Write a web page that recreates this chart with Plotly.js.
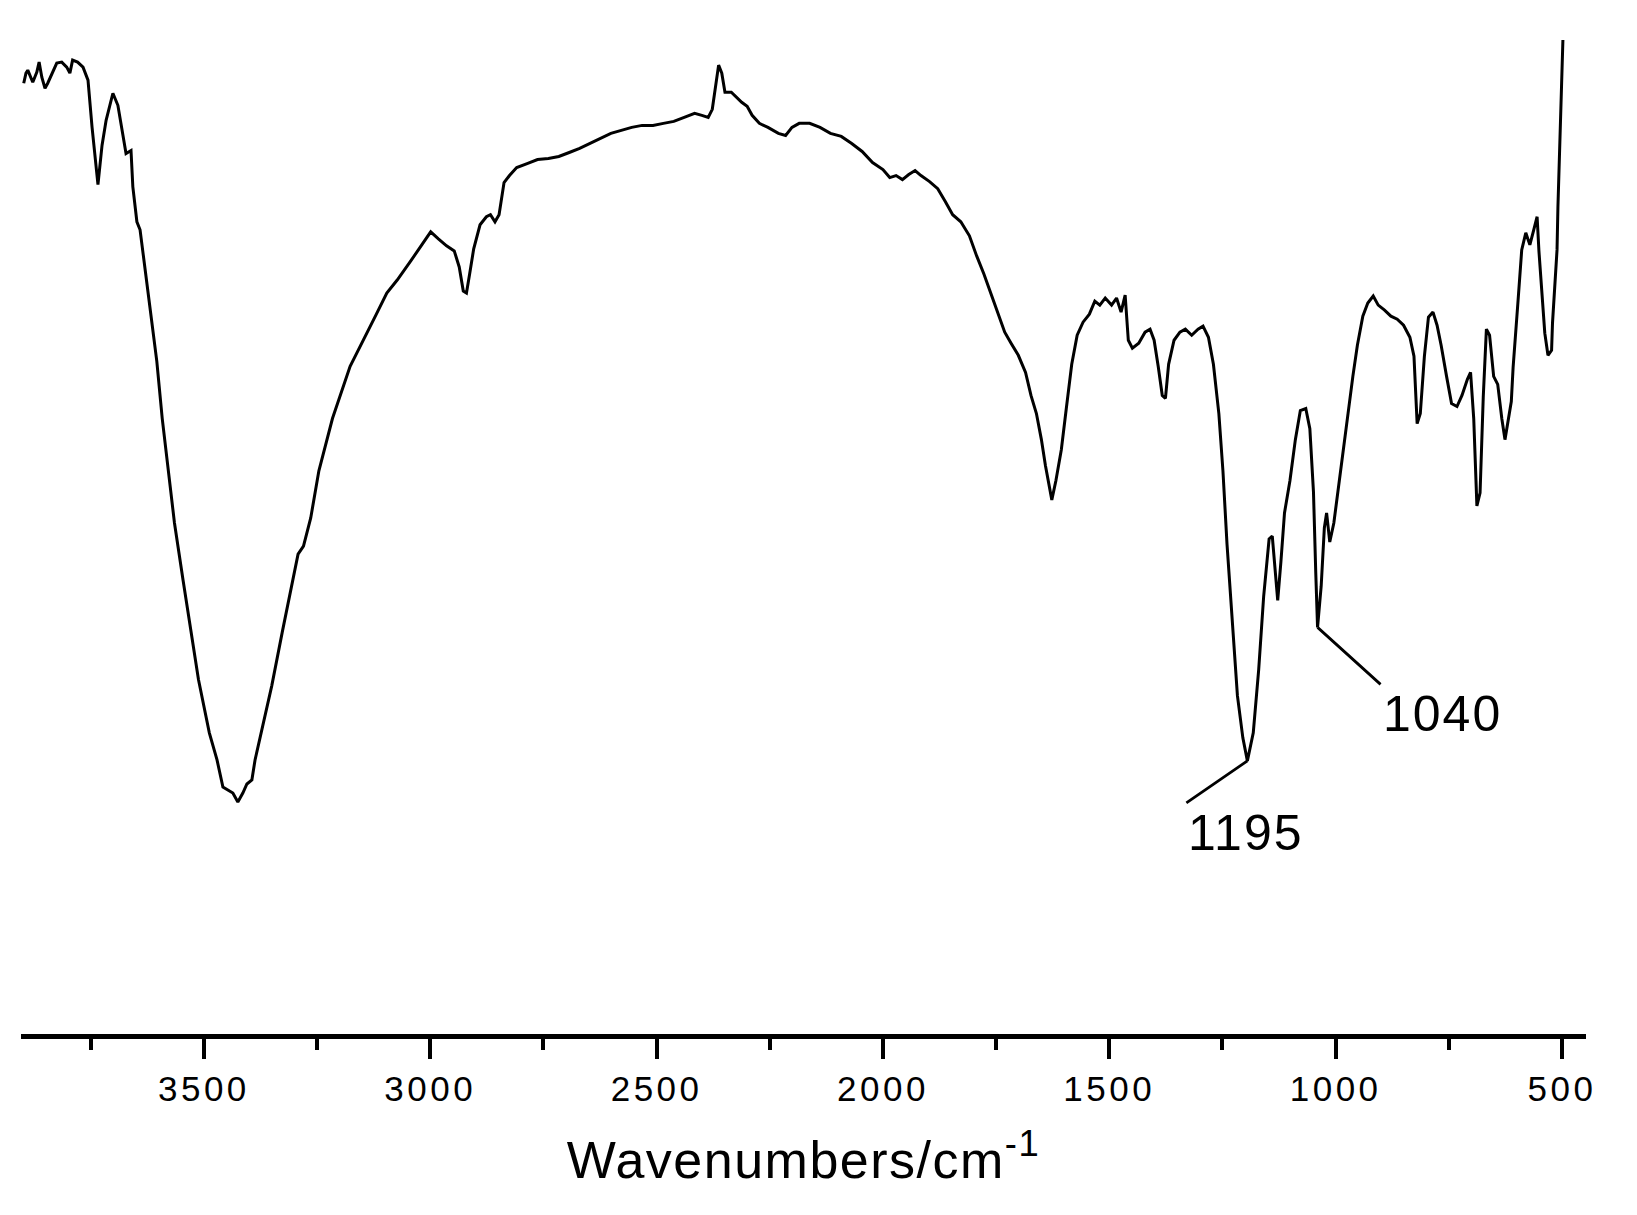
<!DOCTYPE html>
<html>
<head>
<meta charset="utf-8">
<script src="https://cdn.plot.ly/plotly-3.0.1.min.js"></script>
<style>
  html, body { margin: 0; padding: 0; background: #fff; }
  #chart { width: 1637px; height: 1215px; }
  .xtick text { letter-spacing: 3.5px; }
  .g-xtitle text { letter-spacing: 1.5px; }
  .annotation-text { letter-spacing: 2px; }
</style>
</head>
<body>
<div id="chart"></div>
<script>
// FT-IR spectrum: wavenumber (cm^-1) and transmittance (arbitrary %)
const wavenumber = [
  3898, 3893, 3889, 3878, 3869, 3864, 3858, 3851, 3845, 3834, 3825, 3814, 3803, 3796, 3790, 3779,
  3767, 3756, 3747, 3734, 3725, 3716, 3701, 3690, 3672, 3661, 3657, 3648, 3641,
  3628, 3615, 3604, 3592, 3581, 3565, 3546, 3530, 3512, 3488,
  3471, 3458, 3436, 3425, 3414, 3405, 3394, 3387,
  3373, 3350, 3327, 3304, 3292, 3280, 3264, 3246, 3216, 3177, 3153, 3119, 3096, 3073, 3043, 3015, 2999,
  2982, 2964, 2947, 2936, 2927, 2920, 2913, 2904, 2890, 2876, 2867, 2857, 2848, 2837, 2825, 2809,
  2786, 2763, 2739, 2716, 2693, 2670, 2647, 2624, 2601, 2578, 2555, 2532, 2508, 2485, 2462, 2439,
  2416, 2400, 2386, 2377, 2370, 2363, 2356, 2349, 2335, 2324, 2312, 2300, 2289, 2273, 2254, 2231,
  2215, 2201, 2185, 2162, 2139, 2116, 2092, 2069, 2046, 2023, 2000,
  1985, 1971, 1957, 1943, 1929, 1916, 1897, 1879, 1862, 1846, 1828, 1809, 1793, 1777, 1758, 1742,
  1731, 1717, 1701, 1685, 1673, 1661, 1650, 1641, 1631, 1627, 1618, 1606, 1595, 1583, 1571, 1558,
  1544, 1532, 1521, 1509, 1495, 1484, 1474, 1465, 1458, 1449, 1435, 1421, 1410,
  1401, 1392, 1383, 1376, 1369, 1357, 1344, 1332, 1318, 1304, 1293, 1281, 1270, 1258, 1249, 1240,
  1228, 1217, 1205, 1195, 1182, 1170, 1159, 1147, 1140, 1133, 1128, 1121, 1113, 1101, 1089, 1078,
  1066, 1057, 1049, 1044, 1040, 1032, 1025, 1020, 1013, 1004, 992, 983, 974,
  962, 952, 940, 929, 917, 906, 892, 878, 864, 850, 836, 827, 820, 813, 804, 795,
  785, 776, 767, 755, 744, 732, 721, 709, 702, 695, 688, 681, 674, 667, 660, 651,
  642, 633, 626, 612, 608, 597, 589, 580, 571, 563, 555, 551, 544, 538, 531, 523,
  521, 511, 509, 505, 502, 498
];
const transmittance = [
  94.7, 95.7, 96.0, 94.8, 95.8, 96.8, 95.3, 94.2, 94.7, 95.8, 96.7, 96.8, 96.3, 95.7, 97.0, 96.8,
  96.3, 95.0, 90.3, 84.6, 88.5, 91.0, 93.7, 92.5, 87.7, 88.0, 84.4, 80.9, 80.1,
  75.5, 71.0, 67.0, 61.3, 57.1, 50.9, 45.2, 40.5, 35.3, 30.0,
  27.3, 24.6, 24.0, 23.1, 24.0, 24.9, 25.3, 27.3,
  30.0, 34.7, 40.0, 45.2, 47.8, 48.6, 51.4, 56.1, 61.3, 66.5, 68.6, 71.7, 73.8, 75.1, 77.0, 78.8, 79.9,
  79.2, 78.5, 78.0, 76.4, 74.0, 73.8, 75.7, 78.2, 80.6, 81.4, 81.6, 80.9, 81.6, 84.8, 85.5, 86.3,
  86.7, 87.1, 87.2, 87.4, 87.8, 88.2, 88.7, 89.2, 89.7, 90.0, 90.3, 90.5, 90.5, 90.7, 90.9, 91.3,
  91.7, 91.5, 91.3, 92.1, 94.1, 96.5, 95.7, 93.8, 93.8, 93.3, 92.8, 92.4, 91.5, 90.7, 90.3, 89.7,
  89.5, 90.3, 90.7, 90.7, 90.3, 89.7, 89.4, 88.7, 87.9, 86.8, 86.1,
  85.3, 85.5, 85.1, 85.6, 86.0, 85.5, 84.9, 84.2, 82.9, 81.6, 80.9, 79.5, 77.5, 75.7, 73.3, 71.2,
  69.9, 68.8, 67.6, 65.9, 63.6, 61.8, 59.2, 56.6, 54.0, 53.2, 55.1, 58.2, 62.3, 66.7, 69.6, 70.9,
  71.7, 73.0, 72.6, 73.3, 72.6, 73.3, 71.9, 73.6, 69.1, 68.3, 68.8, 69.9, 70.2,
  69.1, 66.5, 63.6, 63.3, 66.7, 69.1, 69.9, 70.2, 69.6, 70.2, 70.5, 69.4, 66.7, 61.8, 56.1, 48.8,
  40.5, 33.7, 29.5, 27.2, 30.0, 36.3, 43.6, 49.3, 49.6, 46.2, 43.2, 47.0, 51.9, 55.1, 59.2, 62.1,
  62.3, 60.3, 54.0, 46.0, 40.5, 44.6, 50.4, 51.9, 49.0, 50.9, 55.1, 58.7, 61.8,
  65.5, 68.6, 71.5, 72.8, 73.5, 72.6, 72.1, 71.5, 71.2, 70.6, 69.4, 67.5, 60.8, 61.8, 67.5, 71.4,
  71.9, 70.6, 68.6, 65.5, 62.8, 62.5, 63.6, 65.2, 65.9, 61.3, 52.6, 53.9, 63.4, 70.2, 69.6, 65.5,
  64.7, 61.3, 59.2, 63.0, 66.4, 73.1, 78.1, 79.8, 78.6, 80.0, 81.4, 78.0, 73.1, 69.8, 67.6, 68.1,
  70.8, 78.1, 82.4, 88.7, 92.3, 99.0
];
const tickValues = [3500, 3000, 2500, 2000, 1500, 1000, 500];
const tickLabels = ['3500', '3000', '2500', '2000', '1500', '1000', '500'];
const peakLabels = ['1195', '1040'];
const peakPositions = [1195, 1040];
const axisTitle = 'Wavenumbers/cm<sup>-1</sup>';

function valueAt(wn) {
  let best = 0;
  for (let i = 0; i < wavenumber.length; i++) {
    if (Math.abs(wavenumber[i] - wn) < Math.abs(wavenumber[best] - wn)) best = i;
  }
  return transmittance[best];
}

const labelOffsets = [[-61, 42], [63, 57]];
const annotations = peakPositions.map((p, i) => ({
  x: p, y: valueAt(p), xref: 'x', yref: 'y',
  text: peakLabels[i],
  showarrow: true, arrowhead: 0, arrowwidth: 2.8, arrowcolor: '#000',
  ax: labelOffsets[i][0], ay: labelOffsets[i][1],
  xanchor: 'left', yanchor: 'top',
  font: {family: 'Liberation Sans, Arial, sans-serif', size: 50, color: '#000'}
}));

const trace = {
  x: wavenumber, y: transmittance, type: 'scatter', mode: 'lines',
  line: {color: '#000', width: 3}, hoverinfo: 'skip'
};

const layout = {
  width: 1637, height: 1215,
  margin: {l: 21, r: 51, t: 30, b: 181},
  paper_bgcolor: '#fff', plot_bgcolor: '#fff',
  showlegend: false,
  xaxis: {
    range: [3904, 447],
    showgrid: false, zeroline: false,
    showline: true, linecolor: '#000', linewidth: 5,
    ticks: 'outside', ticklen: 20, tickwidth: 4, tickcolor: '#000',
    tickvals: tickValues, ticktext: tickLabels,
    minor: {ticks: 'outside', ticklen: 11, tickwidth: 4, tickcolor: '#000', dtick: 250, tick0: 500},
    tickfont: {family: 'Liberation Sans, Arial, sans-serif', size: 35, color: '#000'},
    title: {text: axisTitle, standoff: 36,
      font: {family: 'Liberation Sans, Arial, sans-serif', size: 52, color: '#000'}}
  },
  yaxis: {range: [0, 100], visible: false, showgrid: false, zeroline: false},
  annotations: annotations
};

Plotly.newPlot('chart', [trace], layout, {displayModeBar: false, staticPlot: true});
</script>
</body>
</html>
